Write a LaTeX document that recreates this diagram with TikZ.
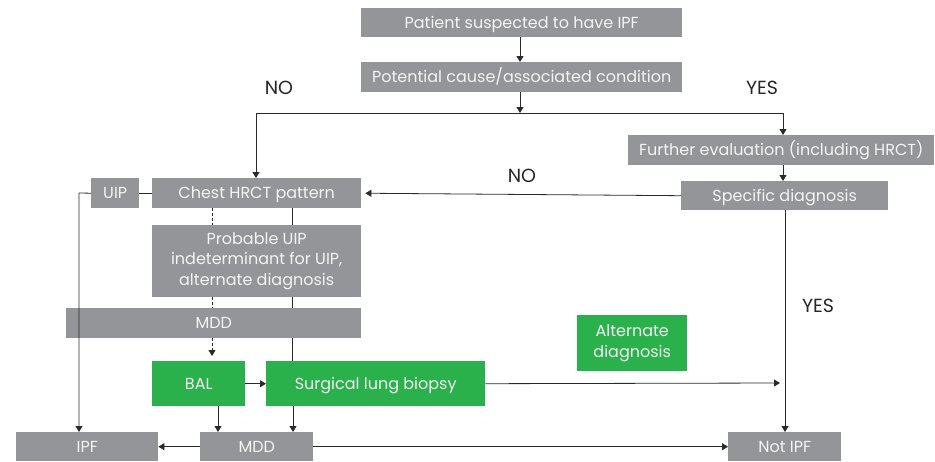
\documentclass[tikz,border=0pt]{standalone}
\usepackage{fontspec}
\setmainfont{Poppins}
\usetikzlibrary{arrows.meta}
\definecolor{boxgray}{HTML}{939598}
\definecolor{boxgreen}{HTML}{2BB14B}
\definecolor{boxtext}{HTML}{F4F4F4}
\definecolor{linec}{HTML}{2A2A2A}
\tikzset{
  bx/.style={fill=boxgray, text=boxtext, inner sep=0pt, anchor=north west,
    font=\fontsize{16}{20.5}\selectfont, align=center},
  one/.style={text height=11.5pt, text depth=0pt},
  gbx/.style={bx, fill=boxgreen},
  conn/.style={draw=linec, line width=0.8pt},
  arr/.style={conn, -{Triangle[width=7pt,length=6pt]}},
  dconn/.style={conn, dash pattern=on 3pt off 2pt},
  darr/.style={arr, dash pattern=on 3pt off 2pt},
  lbl/.style={text=black!85, font=\fontsize{19}{22}\selectfont, inner sep=0pt},
}
\begin{document}
\begin{tikzpicture}[x=1pt,y=-1pt]
\useasboundingbox (0,0) rectangle (935,461);
% boxes
\node[bx, one, minimum width=321pt, minimum height=29pt] (b1) at (361,8) {Patient suspected to have IPF};
\node[bx, one, minimum width=321pt, minimum height=30pt] (b2) at (361,62) {Potential cause/associated condition};
\node[bx, one, minimum width=306pt, minimum height=30pt] (fe) at (628,135) {Further evaluation (including HRCT)};
\node[bx, one, minimum width=207pt, minimum height=29pt] (sd) at (681,181) {Specific diagnosis};
\node[bx, one, minimum width=209pt, minimum height=30pt] (chest) at (152,178) {Chest HRCT pattern};
\node[bx, one, minimum width=48pt, minimum height=30pt] (uip) at (91,178) {UIP};
\node[bx, minimum width=209pt, minimum height=72pt] (prob) at (152,225) {\raisebox{-3pt}{\parbox{200pt}{\centering Probable UIP\\indeterminant for UIP,\\alternate diagnosis}}};
\node[bx, one, minimum width=295pt, minimum height=30pt] (mdd1) at (66,308) {MDD};
\node[gbx, one, minimum width=93pt, minimum height=45pt] (bal) at (152,361) {BAL};
\node[gbx, one, minimum width=219pt, minimum height=45pt] (slb) at (266,361) {Surgical lung biopsy};
\node[gbx, minimum width=110pt, minimum height=56pt] (alt) at (577,315) {\raisebox{-2pt}{\parbox{105pt}{\centering Alternate\\diagnosis}}};
\node[bx, one, minimum width=142pt, minimum height=29pt] (ipf) at (16,432) {IPF};
\node[bx, one, minimum width=113pt, minimum height=29pt] (mdd2) at (200,432) {MDD};
\node[bx, one, minimum width=113pt, minimum height=29pt] (notipf) at (728,432) {Not IPF};
% labels
\node[lbl] (no1) at (279,88) {NO};
\node[lbl] (yes1) at (762,88) {YES};
\node[lbl] (no2) at (522,176) {NO};
\node[lbl] (yes2) at (818,306) {YES};
% coordinates
\coordinate (split) at (520,113);
\coordinate (lt) at (256,113);
\coordinate (rt) at (783,113);
\coordinate (uipdown) at (79,193);
\coordinate (slbend) at (780,383);
% connectors
\draw[arr] (b1.south -| 520,0) -- (b2.north -| 520,0);
\draw[arr] (b2.south -| split) -- (split);
\draw[conn] (lt) -- (rt);
\draw[arr] (lt) -- (lt |- chest.north);
\draw[arr] (rt) -- (rt |- fe.north);
\draw[arr] (fe.south -| 783,0) -- (sd.north -| 783,0);
\draw[arr, shorten >=4pt] (sd.west) -- (chest.east);
\draw[conn] (uip.east) -- (chest.west);
\draw[arr] (uip.west) -- (uipdown) -- (uipdown |- ipf.north);
% dashed chain
\draw[dconn] (chest.south -| 212,0) -- (prob.north -| 212,0);
\draw[dconn] (prob.south -| 212,0) -- (mdd1.north -| 212,0);
\draw[darr, shorten >=5pt] (mdd1.south -| 212,0) -- (bal.north -| 212,0);
% solid chain
\draw[conn] (chest.south -| 292,0) -- (prob.north -| 292,0);
\draw[conn] (prob.south -| 292,0) -- (mdd1.north -| 292,0);
\draw[conn] (mdd1.south -| 292,0) -- (slb.north -| 292,0);
% lower
\draw[arr] (bal.east) -- (slb.west);
\draw[arr] (slb.east) -- (slbend);
\draw[arr] (sd.south -| 785,0) -- (notipf.north -| 785,0);
\draw[arr] (bal.south -| 218,0) -- (mdd2.north -| 218,0);
\draw[arr] (slb.south -| 293,0) -- (mdd2.north -| 293,0);
\draw[arr] (mdd2.west) -- (ipf.east);
\draw[arr] (mdd2.east) -- (notipf.west);
\end{tikzpicture}
\end{document}
